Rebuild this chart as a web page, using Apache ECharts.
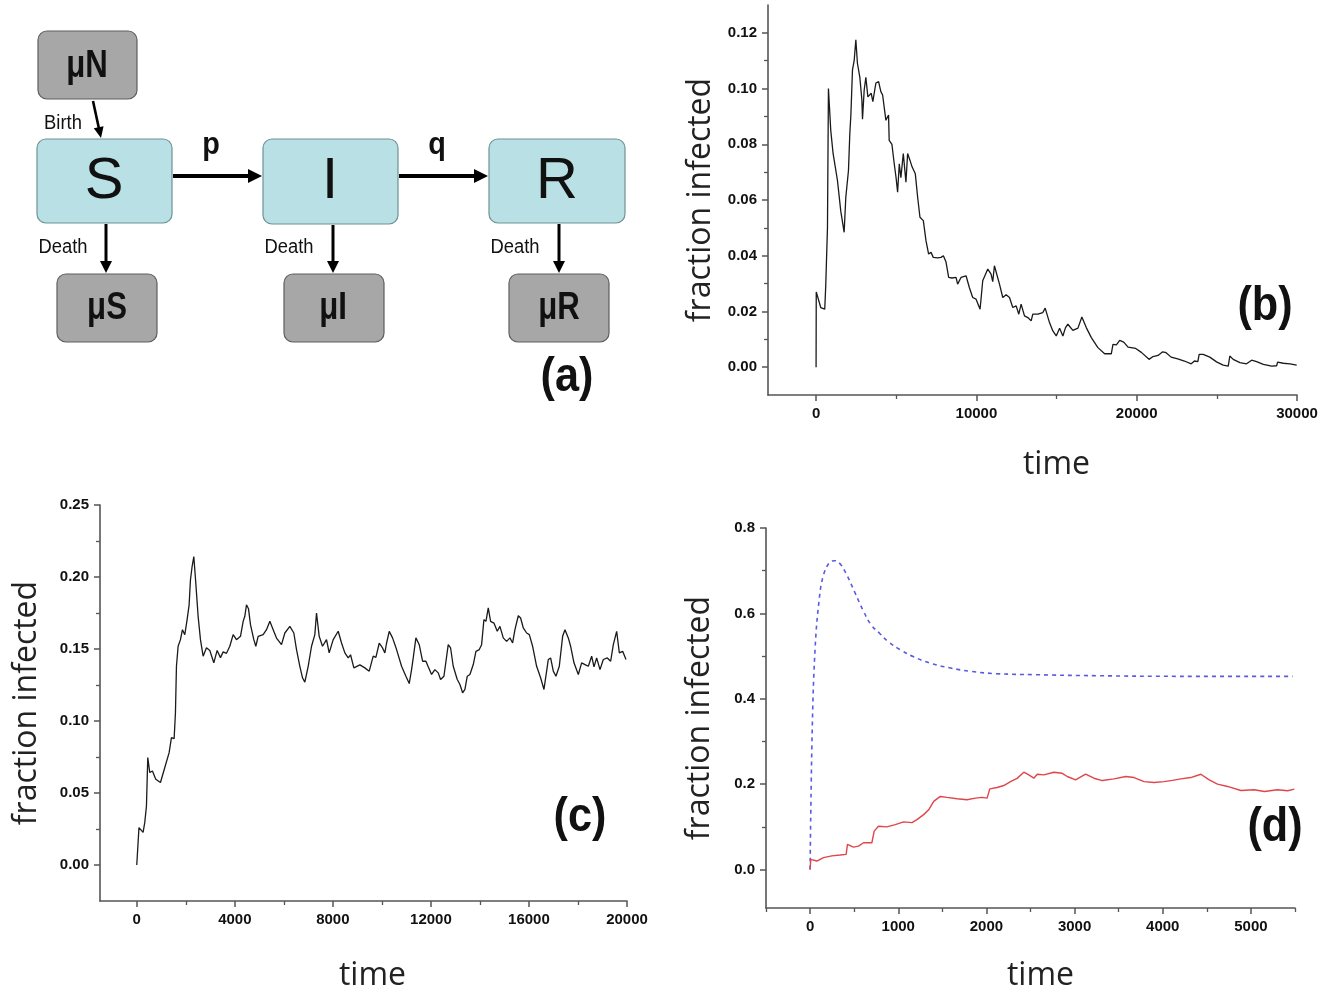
<!DOCTYPE html>
<html><head><meta charset="utf-8">
<script src="https://cdn.jsdelivr.net/npm/echarts@6/dist/echarts.min.js"></script>
<style>html,body{margin:0;padding:0;background:#fff}#c{width:1333px;height:993px}</style>
</head><body><div id="c"></div>
<script>
// ---------- Panel (b) data ----------
const bTime = [0,10,290,540,600,710,770,915,1060,1333,1540,1750,1854,2020,2104,2170,2270,2375,2480,2580,2730,2855,2895,3000,3105,3230,3440,3540,3730,3900,4040,4150,4355,4520,4560,4730,4875,4990,5085,5190,5290,5440,5605,5710,5855,5980,6190,6335,6480,6690,6855,7020,7170,7310,7585,7790,7940,8105,8270,8480,8730,8830,9040,9355,9560,9770,9980,10230,10395,10500,10710,10915,11020,11125,11230,11440,11645,11855,12065,12270,12480,12645,12790,13000,13210,13415,13520,13835,14145,14290,14560,14770,14980,15190,15395,15560,15705,16020,16335,16580,16855,17170,17580,18000,18415,18520,18730,18940,19190,19460,19940,20290,20770,21020,21330,21625,21835,22145,22560,22980,23400,23605,23815,23895,24145,24250,24560,24980,25395,25710,25810,26020,26440,26855,27170,27480,27900,28420,28730,28790,29145,29560,29980];
const bFrac = [0,0.027,0.0214,0.0208,0.029,0.050,0.100,0.085,0.0767,0.067,0.056,0.0484,0.061,0.0706,0.0839,0.0905,0.1067,0.110,0.1175,0.109,0.104,0.096,0.089,0.0995,0.104,0.097,0.0983,0.0953,0.102,0.1025,0.0989,0.0977,0.0886,0.0905,0.0814,0.080,0.073,0.068,0.0628,0.073,0.068,0.0767,0.0664,0.0767,0.0743,0.072,0.0694,0.061,0.0538,0.0526,0.0454,0.0406,0.0412,0.0394,0.0392,0.0394,0.040,0.0377,0.0322,0.032,0.0322,0.0298,0.0322,0.0328,0.0286,0.025,0.0244,0.0208,0.031,0.0307,0.0352,0.0334,0.0307,0.0364,0.0364,0.0298,0.025,0.026,0.025,0.0214,0.022,0.019,0.0226,0.0184,0.0178,0.0166,0.019,0.019,0.0196,0.0212,0.016,0.013,0.0112,0.014,0.0112,0.0142,0.0154,0.0132,0.014,0.018,0.0142,0.0106,0.007,0.0048,0.0048,0.0082,0.008,0.0096,0.009,0.0072,0.0067,0.0053,0.0028,0.0038,0.0042,0.0055,0.0052,0.0036,0.003,0.0022,0.0012,0.0022,0.002,0.0046,0.0046,0.005,0.0036,0.0019,0.0007,0.0004,0.004,0.0028,0.0016,0.0012,0.0025,0.002,0.001,0.0004,0.0005,0.0018,0.0014,0.0012,0.0007];
const bXTicks = [0,10000,20000,30000];
const bXMinor = [5000,15000,25000];
const bYTicks = [0,0.02,0.04,0.06,0.08,0.10,0.12];
const bYMinor = [0.01,0.03,0.05,0.07,0.09,0.11];

// ---------- Panel (c) data ----------
const cTime = [0,90,150,258,327,395,449,530,640,775,966,1102,1170,1320,1415,1524,1578,1619,1687,1782,1864,1959,2054,2136,2190,2258,2327,2408,2503,2599,2707,2844,2980,3143,3279,3415,3524,3660,3796,3932,4068,4231,4340,4408,4476,4558,4639,4775,4857,4952,5156,5292,5429,5565,5701,5905,6041,6245,6408,6517,6653,6762,6857,6993,7130,7265,7333,7442,7578,7741,7850,8014,8218,8354,8490,8626,8721,8857,9102,9306,9483,9646,9755,9891,10027,10122,10190,10299,10435,10599,10803,10980,11116,11211,11279,11388,11524,11660,11796,11891,12027,12163,12299,12395,12531,12707,12803,12911,13075,13184,13293,13388,13483,13592,13728,13837,13973,14068,14163,14245,14340,14435,14571,14707,14816,14952,15088,15224,15333,15429,15565,15660,15769,15905,16014,16150,16313,16476,16612,16721,16789,16884,16993,17102,17238,17374,17469,17605,17701,17837,18014,18150,18286,18422,18558,18653,18762,18898,19034,19197,19333,19442,19578,19687,19823,19959];
const cFrac = [0,0.026,0.0272,0.0226,0.0296,0.041,0.0746,0.0642,0.0653,0.0596,0.0573,0.0653,0.066,0.078,0.0884,0.0877,0.1057,0.138,0.1519,0.1565,0.1634,0.1599,0.1704,0.1807,0.198,0.2073,0.2142,0.1958,0.1727,0.1565,0.145,0.1508,0.149,0.1404,0.149,0.144,0.148,0.147,0.1519,0.16,0.1565,0.1588,0.1692,0.1727,0.1807,0.178,0.1669,0.1565,0.1519,0.1588,0.16,0.1634,0.1692,0.1634,0.1576,0.153,0.1611,0.1657,0.1611,0.1496,0.138,0.13,0.127,0.138,0.1519,0.16,0.175,0.1588,0.1519,0.1565,0.1473,0.1565,0.1623,0.1542,0.1473,0.1438,0.146,0.1369,0.139,0.1369,0.1346,0.145,0.1442,0.154,0.1507,0.1473,0.154,0.1623,0.1577,0.1496,0.138,0.1311,0.126,0.1357,0.1438,0.1577,0.153,0.1415,0.1415,0.1376,0.1323,0.1357,0.1334,0.1288,0.1311,0.153,0.1507,0.138,0.1288,0.1253,0.1196,0.122,0.1311,0.1323,0.1392,0.1484,0.1496,0.153,0.1704,0.1692,0.1785,0.1692,0.168,0.1623,0.1657,0.1577,0.1553,0.1577,0.1542,0.1634,0.1731,0.1715,0.1646,0.1611,0.16,0.1519,0.138,0.13,0.1219,0.1346,0.1427,0.1438,0.1346,0.1311,0.138,0.1588,0.1634,0.1577,0.1519,0.1404,0.1323,0.1404,0.1392,0.138,0.145,0.1376,0.1438,0.1357,0.1427,0.1438,0.1415,0.153,0.1623,0.1473,0.1484,0.1427];
const cXTicks = [0,4000,8000,12000,16000,20000];
const cXMinor = [2000,6000,10000,14000,18000];
const cYTicks = [0,0.05,0.10,0.15,0.20,0.25];
const cYMinor = [0.025,0.075,0.125,0.175,0.225];

// ---------- Panel (d) data ----------
const dBlueTime = [0,24,57,104,151,222,279,341,412,506,601,695,790,885,1026,1168,1358,1594,1831,2114,2540,3250,4195,5473];
const dBlueFrac = [0,0.325,0.518,0.634,0.689,0.7195,0.7234,0.716,0.692,0.65,0.607,0.5725,0.553,0.534,0.5145,0.499,0.4836,0.472,0.464,0.4588,0.4565,0.454,0.4526,0.4526];
const dRedTime = [0,8,76,152,246,341,409,424,492,549,606,701,727,776,871,966,1061,1155,1212,1288,1345,1402,1477,1553,1667,1780,1875,1951,2008,2038,2121,2197,2273,2348,2424,2481,2538,2576,2652,2765,2860,2917,3011,3125,3220,3314,3447,3580,3674,3788,3902,4015,4110,4205,4318,4432,4527,4621,4735,4886,5038,5152,5303,5417,5492];
const dRedFrac = [0,0.024,0.020,0.028,0.032,0.034,0.0357,0.059,0.0527,0.055,0.0628,0.0628,0.090,0.1016,0.1,0.1054,0.1116,0.110,0.117,0.1287,0.140,0.1597,0.1713,0.169,0.166,0.1636,0.1674,0.169,0.1674,0.189,0.1922,0.1968,0.206,0.2136,0.228,0.2217,0.214,0.2232,0.2217,0.228,0.2255,0.218,0.210,0.2233,0.214,0.2085,0.2124,0.218,0.2155,0.206,0.2038,0.206,0.209,0.2124,0.2155,0.2233,0.210,0.200,0.1947,0.1853,0.1868,0.183,0.1868,0.1845,0.1884];
const dXTicks = [0,1000,2000,3000,4000,5000];
const dXMinor = [-500,500,1500,2500,3500,4500,5500];
const dYTicks = [0,0.2,0.4,0.6,0.8];
const dYMinor = [0.1,0.3,0.5,0.7];

// ---------- Panel (a) diagram labels ----------
const boxLabels = ['μN','S','I','R','μS','μI','μR'];
const flowLabels = ['Birth','p','q','Death'];
const axisTitleY = 'fraction infected';
const axisTitleX = 'time';

function zip(t, v){ const n=Math.min(t.length,v.length); const o=[]; for(let i=0;i<n;i++) o.push([t[i],v[i]]); return o; }

const AXC = '#555';
const tickFont = {color:'#111', fontSize:15, fontWeight:'bold', fontFamily:'"Liberation Sans", Arial, sans-serif'};
const titleFont = {color:'#222', fontSize:32, fontFamily:'"Open Sans", "Noto Sans", sans-serif'};

const grids = [
  {left:768, top:5, width:529, height:390},
  {left:100, top:505, width:527, height:398},
  {left:766, top:528, width:529, height:382}
];
const xAxes = [], yAxes = [];
function addAxes(g, xr, yr, xt, xm, yt, ym, yDec, yGap, xGap, xShift){
  xAxes.push({type:'value', gridIndex:g, min:xr[0], max:xr[1], position:'bottom',
    axisLine:{onZero:false, lineStyle:{color:AXC, width:1.6}},
    axisTick:{customValues:xt, length:6, lineStyle:{color:AXC, width:1.5}},
    axisLabel:Object.assign({customValues:xt, margin:11, formatter:v=>String(Math.round(v))}, tickFont),
    splitLine:{show:false},
    name:axisTitleX, nameLocation:'middle', nameGap:xGap,
    nameTextStyle:Object.assign({padding:[0,0,0,xShift*2]}, titleFont)});
  xAxes.push({type:'value', gridIndex:g, min:xr[0], max:xr[1], position:'bottom',
    axisLine:{show:false, onZero:false},
    axisTick:{customValues:xm, length:4, lineStyle:{color:AXC, width:1.3}},
    axisLabel:{show:false}, splitLine:{show:false}});
  yAxes.push({type:'value', gridIndex:g, min:yr[0], max:yr[1], position:'left',
    axisLine:{onZero:false, lineStyle:{color:AXC, width:1.6}},
    axisTick:{customValues:yt, length:6, lineStyle:{color:AXC, width:1.5}},
    axisLabel:Object.assign({customValues:yt, margin:11, formatter:v=>v.toFixed(yDec)}, tickFont),
    splitLine:{show:false},
    name:axisTitleY, nameLocation:'middle', nameRotate:90, nameGap:yGap,
    nameTextStyle:titleFont});
  yAxes.push({type:'value', gridIndex:g, min:yr[0], max:yr[1], position:'left',
    axisLine:{show:false, onZero:false},
    axisTick:{customValues:ym, length:4, lineStyle:{color:AXC, width:1.3}},
    axisLabel:{show:false}, splitLine:{show:false}});
}
addAxes(0, [-3000,30000], [-0.01,0.13], bXTicks, bXMinor, bYTicks, bYMinor, 2, 51, 54, 24);
addAxes(1, [-1500,20000], [-0.025,0.25], cXTicks, cXMinor, cYTicks, cYMinor, 2, 57, 59, 9);
addAxes(2, [-500,5500], [-0.09,0.8], dXTicks, dXMinor, dYTicks, dYMinor, 1, 50, 52, 10);

const series = [
  {type:'line', xAxisIndex:0, yAxisIndex:0, data:zip(bTime,bFrac), showSymbol:false, lineStyle:{color:'#1a1a1a', width:1.3}},
  {type:'line', xAxisIndex:2, yAxisIndex:2, data:zip(cTime,cFrac), showSymbol:false, lineStyle:{color:'#1a1a1a', width:1.3}},
  {type:'line', xAxisIndex:4, yAxisIndex:4, data:zip(dBlueTime,dBlueFrac), showSymbol:false, smooth:0.4, lineStyle:{color:'#5a5ae0', width:1.6, type:[4,4]}},
  {type:'line', xAxisIndex:4, yAxisIndex:4, data:zip(dRedTime,dRedFrac), showSymbol:false, lineStyle:{color:'#e0454a', width:1.4}}
];

// ---------- diagram graphic ----------
const g = [];
function box(x,y,w,h,fill,stroke){ g.push({type:'rect', shape:{x:x,y:y,width:w,height:h,r:9}, style:{fill:fill, stroke:stroke, lineWidth:1.2}, silent:true}); }
function txt(s,x,y,font,sx){ g.push({type:'text', x:x, y:y, scaleX:sx||1, style:{text:s, x:0, y:0, font:font, fill:'#111', align:'center', verticalAlign:'middle'}, silent:true}); }
function arrow(x1,y1,x2,y2,w,hl,hw){
  const dx=x2-x1, dy=y2-y1, L=Math.hypot(dx,dy), ux=dx/L, uy=dy/L;
  const bx=x2-ux*hl, by=y2-uy*hl;
  g.push({type:'line', shape:{x1:x1,y1:y1,x2:bx+ux*1,y2:by+uy*1}, style:{stroke:'#000', lineWidth:w}, silent:true});
  g.push({type:'polygon', shape:{points:[[x2,y2],[bx-uy*hw,by+ux*hw],[bx+uy*hw,by-ux*hw]]}, style:{fill:'#000'}, silent:true});
}
const BLUE='#b9e0e4', BLUES='#6f9296', GRAY='#a7a7a7', GRAYS='#5e5e5e';
box(38,31,99,68,GRAY,GRAYS);
box(37,139,135,84,BLUE,BLUES);
box(263,139,135,85,BLUE,BLUES);
box(489,139,136,84,BLUE,BLUES);
box(57,274,100,68,GRAY,GRAYS);
box(284,274,100,68,GRAY,GRAYS);
box(509,274,100,68,GRAY,GRAYS);
const muFont = 'bold 38px "Liberation Sans", Arial, sans-serif';
const bigFont = '58px "Liberation Sans", Arial, sans-serif';
txt(boxLabels[0], 87, 67, muFont, 0.82);
txt(boxLabels[1], 104, 182, bigFont);
txt(boxLabels[2], 330, 182, bigFont);
txt(boxLabels[3], 557, 182, bigFont);
txt(boxLabels[4], 107, 309, muFont, 0.82);
txt(boxLabels[5], 333, 309, muFont, 0.82);
txt(boxLabels[6], 559, 309, muFont, 0.82);
arrow(93,101,101,138,2.6,11,5);
arrow(173,176,262,176,4,14,7);
arrow(399,176,488,176,4,14,7);
arrow(106,224,106,273,3,12,6);
arrow(333,225,333,273,3,12,6);
arrow(559,224,559,273,3,12,6);
const smallFont = '20px "Liberation Sans", Arial, sans-serif';
txt(flowLabels[0], 63, 123, smallFont, 0.92);
txt(flowLabels[3], 63, 247, smallFont, 0.92);
txt(flowLabels[3], 289, 247, smallFont, 0.92);
txt(flowLabels[3], 515, 247, smallFont, 0.92);
const pqFont = 'bold 32px "Liberation Sans", Arial, sans-serif';
txt(flowLabels[1], 211, 145, pqFont, 0.9);
txt(flowLabels[2], 437, 145, pqFont, 0.9);
const panelFont = 'bold 48px "Liberation Sans", Arial, sans-serif';
txt('(a)', 567, 378, panelFont, 0.9);
txt('(b)', 1265, 307, panelFont, 0.9);
txt('(c)', 580, 818, panelFont, 0.9);
txt('(d)', 1275, 828, panelFont, 0.9);

const chart = echarts.init(document.getElementById('c'), null, {renderer:'canvas'});
chart.setOption({
  animation:false,
  backgroundColor:'#fff',
  grid:grids,
  xAxis:xAxes,
  yAxis:yAxes,
  series:series,
  graphic:{elements:g}
});
</script></body></html>
